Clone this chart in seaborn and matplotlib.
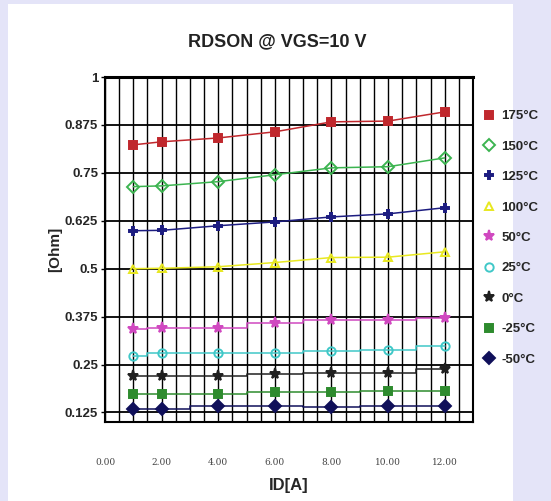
import matplotlib
matplotlib.use("Agg")
import matplotlib.pyplot as plt
import seaborn as sns
import pandas as pd
from matplotlib.lines import Line2D
from matplotlib.patches import Rectangle

# ---- data ----
current = [1, 2, 4, 6, 8, 10, 12]
temps = ["175°C", "150°C", "125°C", "100°C", "50°C", "25°C", "0°C", "-25°C", "-50°C"]
r_175 = [0.823, 0.831, 0.841, 0.857, 0.883, 0.885, 0.909]
r_150 = [0.714, 0.716, 0.727, 0.745, 0.763, 0.766, 0.789]
r_125 = [0.599, 0.600, 0.612, 0.622, 0.635, 0.643, 0.659]
r_100 = [0.500, 0.501, 0.505, 0.516, 0.529, 0.530, 0.544]
r_50 = [0.342, 0.346, 0.344, 0.357, 0.367, 0.365, 0.372]
r_25 = [0.273, 0.279, 0.279, 0.281, 0.286, 0.289, 0.297]
r_0 = [0.219, 0.219, 0.219, 0.224, 0.229, 0.227, 0.237]
r_m25 = [0.172, 0.172, 0.172, 0.177, 0.177, 0.180, 0.182]
r_m50 = [0.135, 0.135, 0.141, 0.141, 0.138, 0.141, 0.143]
series = [r_175, r_150, r_125, r_100, r_50, r_25, r_0, r_m25, r_m50]
yticks = [0.125, 0.25, 0.375, 0.5, 0.625, 0.75, 0.875, 1]
ytick_labels = ["0.125", "0.25", "0.375", "0.5", "0.625", "0.75", "0.875", "1"]
xticks = [0, 2, 4, 6, 8, 10, 12]
xtick_labels = ["0.00", "2.00", "4.00", "6.00", "8.00", "10.00", "12.00"]

# ---- styles ----
colors = ["#c0282d", "#3cb450", "#1c1c80", "#e8e820", "#d048c0", "#40c8c8",
          "#202020", "#2e8b2e", "#10105a"]
markers = ["s", "D", "P", "^", "*", "o", "*", "s", "D"]
filled = [True, False, True, False, True, False, True, True, True]
steps = [False, False, False, False, True, True, True, True, True]

df = pd.DataFrame({
    "ID": current * len(temps),
    "R": [v for s in series for v in s],
    "T": [t for t in temps for _ in current],
})

sns.set_theme(style="white")
narrow = ["Liberation Sans", "DejaVu Sans"]
plt.rcParams["font.family"] = narrow

fig = plt.figure(figsize=(5.51, 5.01), dpi=100)
fig.patch.set_facecolor("#e4e4f8")
fig.patches.append(Rectangle((8 / 551, 0), (513 - 8) / 551, 1 - 4 / 501,
                             transform=fig.transFigure, facecolor="white",
                             edgecolor="none", zorder=-10))

ax = fig.add_axes([105 / 551, 1 - 422 / 501, (473 - 105) / 551, (422 - 77) / 501])
ax.set_facecolor("white")
ax.set_zorder(1)

for i, t in enumerate(temps):
    sub = df[df["T"] == t]
    sns.lineplot(data=sub, x="ID", y="R", ax=ax, color=colors[i],
                 marker=markers[i], markersize=6 if markers[i] != "*" else 8,
                 markerfacecolor=colors[i] if filled[i] else "none",
                 markeredgecolor=colors[i], markeredgewidth=1.4,
                 linewidth=1.1, drawstyle="steps-mid" if steps[i] else "default",
                 zorder=3, legend=False)

ax.set_xlim(0, 13)
ax.set_ylim(0.1, 1)
ax.set_xticks([x * 0.5 for x in range(0, 27)], minor=True)
ax.set_xticks(xticks)
ax.set_xticklabels(xtick_labels, family="DejaVu Serif", fontsize=6.5,
                   color="#444444")
ax.set_yticks(yticks)
ax.set_yticklabels(ytick_labels, fontsize=9.5, fontweight="bold")
ax.grid(which="minor", axis="x", color="black", linewidth=1.0)
ax.grid(which="major", axis="x", color="black", linewidth=1.0)
ax.grid(which="major", axis="y", color="black", linewidth=1.3)
ax.tick_params(axis="x", which="both", length=0, pad=26)
ax.tick_params(axis="y", which="major", length=3, width=1, color="black",
               direction="out", left=True, pad=2)
for sp in ax.spines.values():
    sp.set_color("black")
    sp.set_linewidth(1.5)
ax.spines["top"].set_linewidth(2.2)

ax.set_xlabel("ID[A]", fontsize=12, fontweight="bold", labelpad=8)
ax.set_ylabel("[Ohm]", fontsize=11, fontweight="bold", labelpad=2)
fig.text(277 / 551, 1 - 42 / 501, "RDSON @ VGS=10 V", ha="center", va="center",
         fontsize=13, fontweight="bold", color="#222222")

handles = [Line2D([], [], linestyle="none", marker=markers[i], color=colors[i],
                  markerfacecolor=colors[i] if filled[i] else "none",
                  markeredgewidth=1.4, markersize=6 if markers[i] != "*" else 8)
           for i in range(len(temps))]
leg = fig.legend(handles, temps, loc="upper left",
                 bbox_to_anchor=(480 / 551, 1 - 106 / 501), frameon=False,
                 handlelength=0.8, handletextpad=0.5, labelspacing=1.38,
                 borderaxespad=0, borderpad=0.3,
                 prop={"size": 9.5, "weight": "bold", "family": narrow})

fig.savefig("out.png", dpi=100, facecolor=fig.get_facecolor())
